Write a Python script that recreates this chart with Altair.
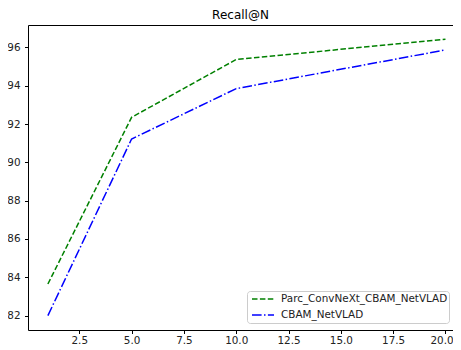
import altair as alt
import pandas as pd

ns = [1, 5, 10, 20]
parc = [83.65, 92.35, 95.37, 96.43]
cbam = [82.0, 91.22, 93.85, 95.87]
names = ["Parc_ConvNeXt_CBAM_NetVLAD", "CBAM_NetVLAD"]
x_ticks = [2.5, 5.0, 7.5, 10.0, 12.5, 15.0, 17.5, 20.0]
y_ticks = [82, 84, 86, 88, 90, 92, 94, 96]

rows = []
for n, v in zip(ns, parc):
    rows.append({"N": n, "recall": v, "model": names[0]})
for n, v in zip(ns, cbam):
    rows.append({"N": n, "recall": v, "model": names[1]})
df = pd.DataFrame(rows)

font = "DejaVu Sans"
lab = "#222222"
xscale = alt.Scale(domain=[0.05, 20.36], nice=False, zero=False)
yscale = alt.Scale(domain=[81.25, 97.17], nice=False, zero=False)

lines = alt.Chart(df).mark_line(strokeWidth=1.5, clip=True).encode(
    x=alt.X("N:Q", scale=xscale,
            axis=alt.Axis(values=x_ticks, format=".1f", title=None, grid=False,
                          tickSize=3.5, tickColor="black", domainColor="black",
                          labelColor=lab, labelFontSize=10.4, labelFont=font,
                          labelPadding=2, labelFlush=False,
                          labelOffset=alt.condition("datum.value == 20", alt.value(-4), alt.value(0)))),
    y=alt.Y("recall:Q", scale=yscale,
            axis=alt.Axis(values=y_ticks, format="d", title=None, grid=False,
                          tickSize=3.5, tickColor="black", domainColor="black",
                          labelColor=lab, labelFontSize=10.4, labelFont=font,
                          labelPadding=4.5, labelFlush=False)),
    color=alt.Color("model:N", scale=alt.Scale(domain=names, range=["#008000", "#0000ff"]),
                    legend=alt.Legend(title=None, orient="none", legendX=219, legendY=266,
                                      symbolType="stroke", symbolSize=484, symbolStrokeWidth=1.5,
                                      clipHeight=14, rowPadding=2, padding=1,
                                      symbolOffset=3, labelOffset=6,
                                      labelFont=font, labelFontSize=10.4, labelColor=lab,
                                      fillColor="white", strokeColor="#cccccc", cornerRadius=3,
                                      labelLimit=300)),
    strokeDash=alt.StrokeDash("model:N", scale=alt.Scale(domain=names,
                              range=[[5.5, 2.4], [9.6, 2.4, 1.5, 2.4]]), legend=None),
)

top_spine = alt.Chart(df).mark_line(opacity=0).encode(
    x=alt.X("N:Q", scale=xscale,
            axis=alt.Axis(orient="top", labels=False, ticks=False, title=None, grid=False,
                          domainColor="black")),
    y=alt.Y("recall:Q", scale=yscale),
)

chart = alt.layer(lines, top_spine).resolve_axis(x="independent").properties(
    width=425, height=305,
    title=alt.TitleParams("Recall@N", font=font, fontSize=12, fontWeight="normal",
                          color="black", offset=3),
    autosize="none",
    padding={"left": 20, "top": 17, "right": 0, "bottom": 20},
).configure_view(stroke=None)

chart.save("out.html", embed_options={"renderer": "svg", "actions": False})
